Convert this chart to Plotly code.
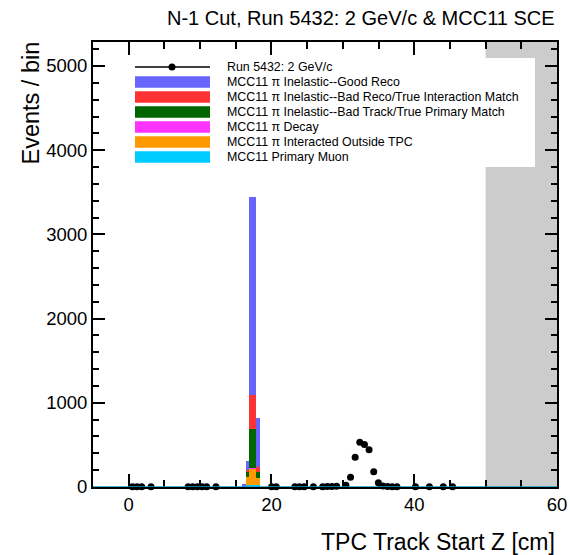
import plotly.graph_objects as go

# ---------------------------------------------------------------- data
# Data histogram: 100 bins of 0.65 cm spanning [-5, 60] cm
z_lo, z_hi, n_bins = -5.0, 60.0, 100
data_bin_index = [8, 9, 10, 12, 20, 21, 22, 23, 24, 26, 38, 39, 43, 44, 45, 47,
                  49, 50, 51, 52, 54, 55, 56, 57, 58, 59, 60, 61, 62, 63, 64, 65,
                  69, 72, 75, 77]
data_counts = [3, 4, 3, 2, 3, 4, 2, 3, 3, 2, 4, 3, 3, 4, 3, 3,
               4, 5, 6, 8, 22, 115, 353, 530, 505, 443, 182, 51, 12, 6, 4, 3,
               2, 2, 2, 2]

# MC stack, bin edges in cm
mc_edges = [15.85, 16.4, 16.9, 17.85, 18.4]
mc_primary_muon = [0, 20, 20, 20]
mc_outside_tpc = [5, 100, 200, 83]
mc_decay = [0, 0, 10, 0]
mc_bad_track = [0, 60, 457, 79]
mc_bad_reco = [0, 20, 408, 59]
mc_good_reco = [35, 110, 2345, 574]

# excluded region of the cut (cm)
cut_region = [50.0, 60.0]

legend_labels = [
    "Run 5432: 2 GeV/c",
    "MCC11 \u03c0 Inelastic--Good Reco",
    "MCC11 \u03c0 Inelastic--Bad Reco/True Interaction Match",
    "MCC11 \u03c0 Inelastic--Bad Track/True Primary Match",
    "MCC11 \u03c0 Decay",
    "MCC11 \u03c0 Interacted Outside TPC",
    "MCC11 Primary Muon",
]

# ---------------------------------------------------------------- layout geometry
W, H = 570, 555
ML, MR, MT, MB = 93, 13, 42, 68
PW, PH = W - ML - MR, H - MT - MB
FONT = "Liberation Sans, Arial, Helvetica, sans-serif"


def px(x):
    return (x - ML) / PW


def py(y):
    return (H - MB - y) / PH


bin_w = (z_hi - z_lo) / n_bins
data_x = [z_lo + (k + 0.5) * bin_w for k in data_bin_index]

mc_centers = [(a + b) / 2 for a, b in zip(mc_edges[:-1], mc_edges[1:])]
mc_widths = [b - a for a, b in zip(mc_edges[:-1], mc_edges[1:])]

stack = [
    ("MCC11 Primary Muon", mc_primary_muon, "#00ccff"),
    ("MCC11 \u03c0 Interacted Outside TPC", mc_outside_tpc, "#ff9900"),
    ("MCC11 \u03c0 Decay", mc_decay, "#ff33ff"),
    ("MCC11 \u03c0 Inelastic--Bad Track/True Primary Match", mc_bad_track, "#006600"),
    ("MCC11 \u03c0 Inelastic--Bad Reco/True Interaction Match", mc_bad_reco, "#ff3333"),
    ("MCC11 \u03c0 Inelastic--Good Reco", mc_good_reco, "#6666ff"),
]

fig = go.Figure()
for name, vals, col in stack:
    fig.add_trace(go.Bar(
        x=mc_centers, y=vals, width=mc_widths, name=name,
        marker=dict(color=col, line=dict(width=0)),
        showlegend=False,
    ))

fig.add_trace(go.Scatter(
    x=data_x, y=data_counts, mode="markers", name="Run 5432: 2 GeV/c",
    marker=dict(color="black", size=7, symbol="circle"),
    showlegend=False, cliponaxis=False,
))

shapes = [
    # excluded region
    dict(type="rect", xref="x", yref="y domain", x0=cut_region[0], x1=cut_region[1],
         y0=0, y1=1, fillcolor="#cccccc", line=dict(width=0), layer="below"),
    # empty-bin outline of the stack along zero
    dict(type="line", xref="paper", yref="y", x0=0, x1=1, y0=0, y1=0,
         line=dict(color="#0aa0c8", width=1.5), layer="above"),
    # legend background
    dict(type="rect", xref="paper", yref="paper", x0=px(128), x1=px(535),
         y0=py(167), y1=py(58), fillcolor="white", line=dict(width=0), layer="above"),
]

annotations = []
row_y = [67, 82, 97, 112, 127, 142, 157]
sw_x0, sw_x1 = 135, 210
legend_colors = [None, "#6666ff", "#ff3333", "#006600", "#ff33ff", "#ff9900", "#00ccff"]
for i, (lab, col) in enumerate(zip(legend_labels, legend_colors)):
    yc = row_y[i]
    if col is None:
        shapes.append(dict(type="line", xref="paper", yref="paper",
                           x0=px(sw_x0), x1=px(sw_x1), y0=py(yc), y1=py(yc),
                           line=dict(color="black", width=1.5), layer="above"))
        shapes.append(dict(type="circle", xref="paper", yref="paper",
                           x0=px(172 - 3.5), x1=px(172 + 3.5),
                           y0=py(yc + 3.5), y1=py(yc - 3.5),
                           fillcolor="black", line=dict(color="black", width=0),
                           layer="above"))
    else:
        shapes.append(dict(type="rect", xref="paper", yref="paper",
                           x0=px(sw_x0), x1=px(sw_x1), y0=py(yc + 5.7), y1=py(yc - 5.7),
                           fillcolor=col, line=dict(width=0), layer="above"))
    annotations.append(dict(text=lab, xref="paper", yref="paper", x=px(225), y=py(yc),
                            xanchor="left", yanchor="middle", showarrow=False,
                            font=dict(family=FONT, size=12.4, color="black")))

annotations += [
    dict(text="N-1 Cut, Run 5432: 2 GeV/c & MCC11 SCE", xref="paper", yref="paper",
         x=px(557), y=py(18), xanchor="right", yanchor="middle", showarrow=False,
         font=dict(family=FONT, size=20, color="black")),
    dict(text="TPC Track Start Z [cm]", xref="paper", yref="paper",
         x=px(557), y=py(542), xanchor="right", yanchor="middle", showarrow=False,
         font=dict(family=FONT, size=23, color="black")),
    dict(text="Events / bin", xref="paper", yref="paper", textangle=-90,
         x=px(30), y=py(40), xanchor="center", yanchor="top", showarrow=False,
         font=dict(family=FONT, size=23.5, color="black")),
]

axis_common = dict(
    showline=True, linecolor="black", linewidth=2, mirror="allticks",
    ticks="inside", tickcolor="black", tickwidth=1.5,
    showgrid=False, zeroline=False, automargin=False,
    tickfont=dict(family=FONT, size=18.5, color="black"),
)

fig.update_layout(
    width=W, height=H, autosize=False,
    margin=dict(l=ML, r=MR, t=MT, b=MB, pad=0, autoexpand=False),
    paper_bgcolor="white", plot_bgcolor="white",
    barmode="stack", bargap=0,
    showlegend=False,
    shapes=shapes, annotations=annotations,
    xaxis=dict(range=[z_lo, z_hi], tick0=0, dtick=20, ticklen=13,
               minor=dict(tick0=0, dtick=5, ticklen=7, ticks="inside",
                          tickcolor="black", tickwidth=1.5),
               **axis_common),
    yaxis=dict(range=[0, 5285], tick0=0, dtick=1000, ticklen=12,
               minor=dict(tick0=0, dtick=200, ticklen=6, ticks="inside",
                          tickcolor="black", tickwidth=1.5),
               **axis_common),
)

fig.write_html("out.html")
